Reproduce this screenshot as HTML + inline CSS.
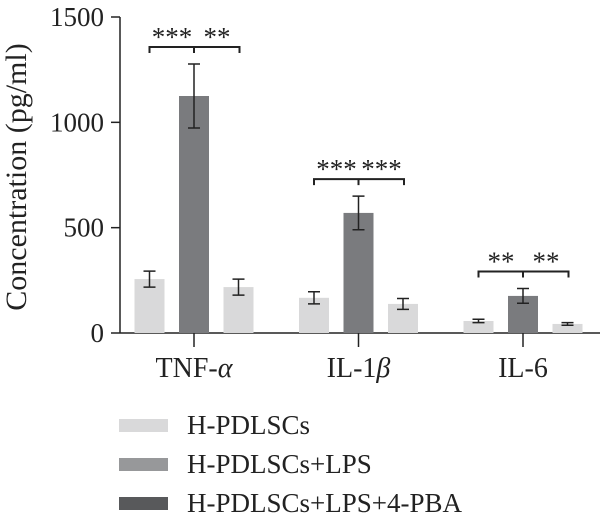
<!DOCTYPE html>
<html><head><meta charset="utf-8"><style>
html,body{margin:0;padding:0;background:#fff;}
svg text{font-family:"Liberation Serif",serif;fill:#222;}
</style></head><body>
<svg id="chart" width="600" height="522" viewBox="0 0 600 522" xmlns="http://www.w3.org/2000/svg">
<text transform="translate(26,177) rotate(-90)" text-anchor="middle" font-size="30">Concentration (pg/ml)</text>
<g id="axes"></g>
<g id="bars"></g>
<g id="legend">
<rect x="119" y="419" width="49" height="13" fill="#d9d9da"/>
<text x="187" y="434" font-size="27">H-PDLSCs</text>
<rect x="119" y="458" width="49" height="13" fill="#97989a"/>
<text x="187" y="473" font-size="27">H-PDLSCs+LPS</text>
<rect x="119" y="497" width="49" height="13" fill="#58595b"/>
<text x="187" y="512" font-size="27">H-PDLSCs+LPS+4-PBA</text>
</g>
</svg>
<script>
const categories = ["TNF-", "IL-1", "IL-6"];
const catGreek = ["α", "β", ""];
const seriesA = [256, 167, 57];
const seriesB = [1125, 570, 176];
const seriesC = [218, 138, 43];
const errA = [38, 29, 8];
const errB = [152, 80, 35];
const errC = [38, 26, 6];
const yTicks = [0, 500, 1000, 1500];
const sigLeft = ["***", "***", "**"];
const sigRight = ["**", "***", "**"];

const NS = "http://www.w3.org/2000/svg";
const y0 = 333, yTop = 17, yMax = 1500;
const yScale = v => y0 - v / yMax * (y0 - yTop);
const groupCenter = i => 194 + i * 164.5;
const barW = 30, barOff = 44.5;
const colors = ["#d9d9da", "#7a7b7e", "#d9d9da"];
const axes = document.getElementById("axes");
const bars = document.getElementById("bars");
function mk(tag, attrs, parent) {
  const e = document.createElementNS(NS, tag);
  for (const k in attrs) e.setAttribute(k, attrs[k]);
  parent.appendChild(e);
  return e;
}
let l = mk("line", {x1:120, y1:y0, x2:120, y2:yScale(1500), stroke:"#222", "stroke-width":1.5}, axes);


l = mk("line", {x1:120, y1:y0, x2:600, y2:y0, stroke:"#222", "stroke-width":1.5}, axes);


yTicks.forEach(v => {
  const y = yScale(v);
  const t = mk("line", {x1:111, y1:y, x2:120, y2:y, stroke:"#222", "stroke-width":1.5}, axes);
  
  
  const tx = mk("text", {x:104, y:y + 9, "text-anchor":"end", "font-size":27}, axes);
  tx.textContent = v;
  
  
});
const series = [seriesA, seriesB, seriesC];
const errs = [errA, errB, errC];
categories.forEach((c, i) => {
  const cx = groupCenter(i);
  const t = mk("line", {x1:cx, y1:y0, x2:cx, y2:347, stroke:"#222", "stroke-width":1.5}, axes);
  
  
  const tx = mk("text", {x:cx, y:377, "text-anchor":"middle", "font-size":28}, axes);
  tx.textContent = c;
  if (catGreek[i]) {
    const ts = mk("tspan", {"font-style":"italic"}, tx);
    ts.textContent = catGreek[i];
  }
  
  
  series.forEach((s, j) => {
    const bx = cx + (j - 1) * barOff;
    const top = yScale(s[i]);
    const r = mk("rect", {x:bx - barW/2, y:top, width:barW, height:y0 - top, fill:colors[j]}, bars);
    
    
    const hi = yScale(s[i] + errs[j][i]), lo = yScale(s[i] - errs[j][i]);
    const g = mk("path", {d:`M${bx},${hi}V${lo}M${bx-6},${hi}H${bx+6}M${bx-6},${lo}H${bx+6}`, stroke:"#222", "stroke-width":1.5, fill:"none"}, bars);
    
    
  });
  const by = yScale(seriesB[i] + errB[i]) - 17;
  const x1 = cx - barOff, x2 = cx + barOff + 1;
  const br = mk("path", {d:`M${x1},${by+6}V${by}H${x2}V${by+6}M${cx},${by}V${by+6}`, stroke:"#222", "stroke-width":2, fill:"none"}, bars);
  
  
  const s1 = mk("text", {x:cx - 22, y:by - 1, "text-anchor":"middle", "font-size":27}, bars);
  s1.textContent = sigLeft[i];
  
  
  const s2 = mk("text", {x:cx + 23, y:by - 1, "text-anchor":"middle", "font-size":27}, bars);
  s2.textContent = sigRight[i];
  
  
});
</script>
</body></html>
